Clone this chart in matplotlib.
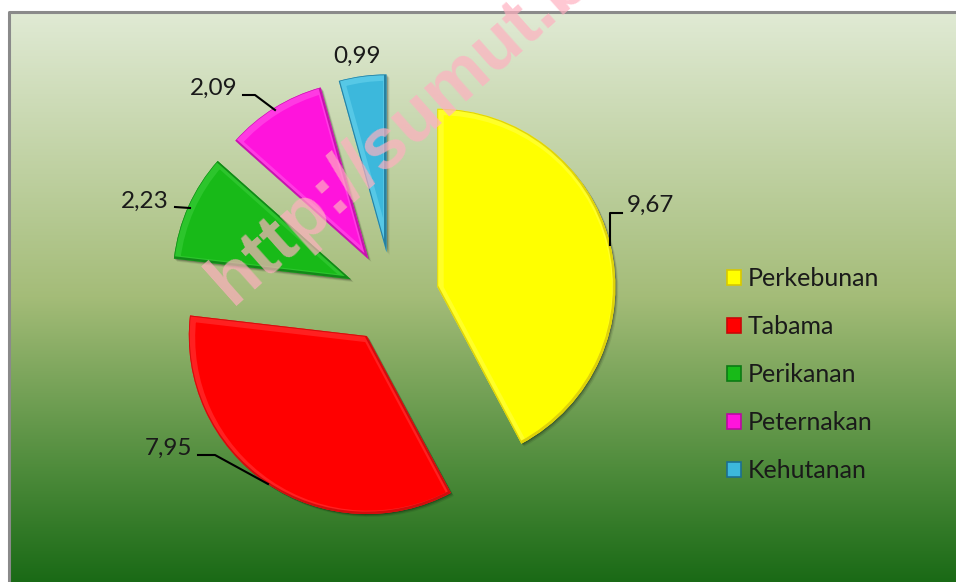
import numpy as np
import matplotlib
matplotlib.use('Agg')
import matplotlib.pyplot as plt
from matplotlib.colors import LinearSegmentedColormap
from matplotlib.patches import PathPatch
from matplotlib.transforms import Affine2D

labels = ['Perkebunan', 'Tabama', 'Perikanan', 'Peternakan', 'Kehutanan']
values = [9.67, 7.95, 2.23, 2.09, 0.99]
value_labels = ['9,67', '7,95', '2,23', '2,09', '0,99']
colors = ['#ffff00', '#ff0000', '#18ba18', '#ff14dc', '#3cb8dc']
dark = ['#d8c800', '#c80808', '#0c7a14', '#b80ca0', '#1c6f90']
light = ['#ffff50', '#ff4040', '#40d040', '#ff60ea', '#70d8f0']

W, H = 956, 582
plt.rcParams['font.family'] = ['Lato', 'DejaVu Sans']
fig = plt.figure(figsize=(W / 100, H / 100), dpi=100)
ax = fig.add_axes([0, 0, 1, 1])

# gradient background of the chart area
cmap = LinearSegmentedColormap.from_list('bg', [
    (0.0, '#e0ead4'), (0.5, '#a4bc78'), (0.8, '#4f8c3c'), (1.0, '#1a6a16')])
grad = np.linspace(0, 1, 256).reshape(-1, 1)
ax.imshow(grad, cmap=cmap, extent=[10, W, 0, H - 12], aspect='auto', zorder=0)
ax.plot([9.5, 9.5, W], [0, H - 11.5, H - 11.5], color='#8a8a8a', lw=2.2, zorder=1)

wedges, _ = ax.pie(values, colors=colors, startangle=90, counterclock=False,
                   radius=178, center=(392.7, 284), explode=[46] * 5,
                   wedgeprops=dict(edgecolor='none', zorder=3), frame=True)


def inner_stroke(w, color, lw, alpha, dx, dy, z):
    # outline clipped to the slice, shifted so one side shows more than the other
    p = PathPatch(w.get_path(), transform=w.get_transform() + Affine2D().translate(dx, dy),
                  fill=False, ec=color, lw=lw, alpha=alpha, zorder=z)
    ax.add_patch(p)
    p.set_clip_path(w)


# bevel look
for w, d, l in zip(wedges, dark, light):
    w.set_linewidth(0)
    for off, a in [(3, 0.08), (2, 0.14), (1, 0.2)]:
        shadow = PathPatch(w.get_path(), transform=w.get_transform() + Affine2D().translate(off, -off),
                           fc='#000000', ec='none', alpha=a, zorder=2)
        ax.add_patch(shadow)
    inner_stroke(w, l, 7, 0.5, 1.5, -1.5, 4)
    inner_stroke(w, d, 2.4, 0.8, -0.8, 0.8, 5)

ax.set_xlim(0, W)
ax.set_ylim(0, H)
ax.set_aspect('auto')
ax.set_xticks([])
ax.set_yticks([])
for s in ax.spines.values():
    s.set_visible(False)

# value labels and leader lines, in reference pixels (y from top)
label_pos = [(650, 205), (169, 448), (145, 201), (214, 88), (357, 56)]
leaders = [
    [(610, 245), (610, 213), (622, 213)],
    [(268, 484), (215, 455), (198, 455)],
    [(190, 208), (175, 207)],
    [(275, 110), (255, 95), (243, 95)],
    None,
]
for txt, (x, y), lead in zip(value_labels, label_pos, leaders):
    ax.text(x, H - y, txt, fontsize=17.5, color='#1a1a1a', ha='center', va='center', zorder=7)
    if lead:
        ax.plot([p[0] for p in lead], [H - p[1] for p in lead], color='black', lw=1.5, zorder=6)

leg = ax.legend(wedges, labels, loc='upper left', bbox_to_anchor=(727 / W, 1 - 267 / H),
                frameon=False, fontsize=18, handlelength=0.56, handleheight=0.56,
                handletextpad=0.28, labelspacing=1.0, labelcolor='#1a1a1a',
                borderpad=0, borderaxespad=0)
leg.set_zorder(7)
for h, d in zip(leg.legend_handles, dark):
    h.set_edgecolor(d)
    h.set_linewidth(1.2)

# watermark across the chart
ax.text(232, H - 306, 'http://sumut.bps.go.id', fontsize=52, fontweight='bold',
        family='Liberation Sans', color='#ffb0c0', alpha=0.7, rotation=41.7,
        rotation_mode='anchor', ha='left', va='baseline', zorder=8, clip_on=True)

fig.savefig('out.png', dpi=100)
